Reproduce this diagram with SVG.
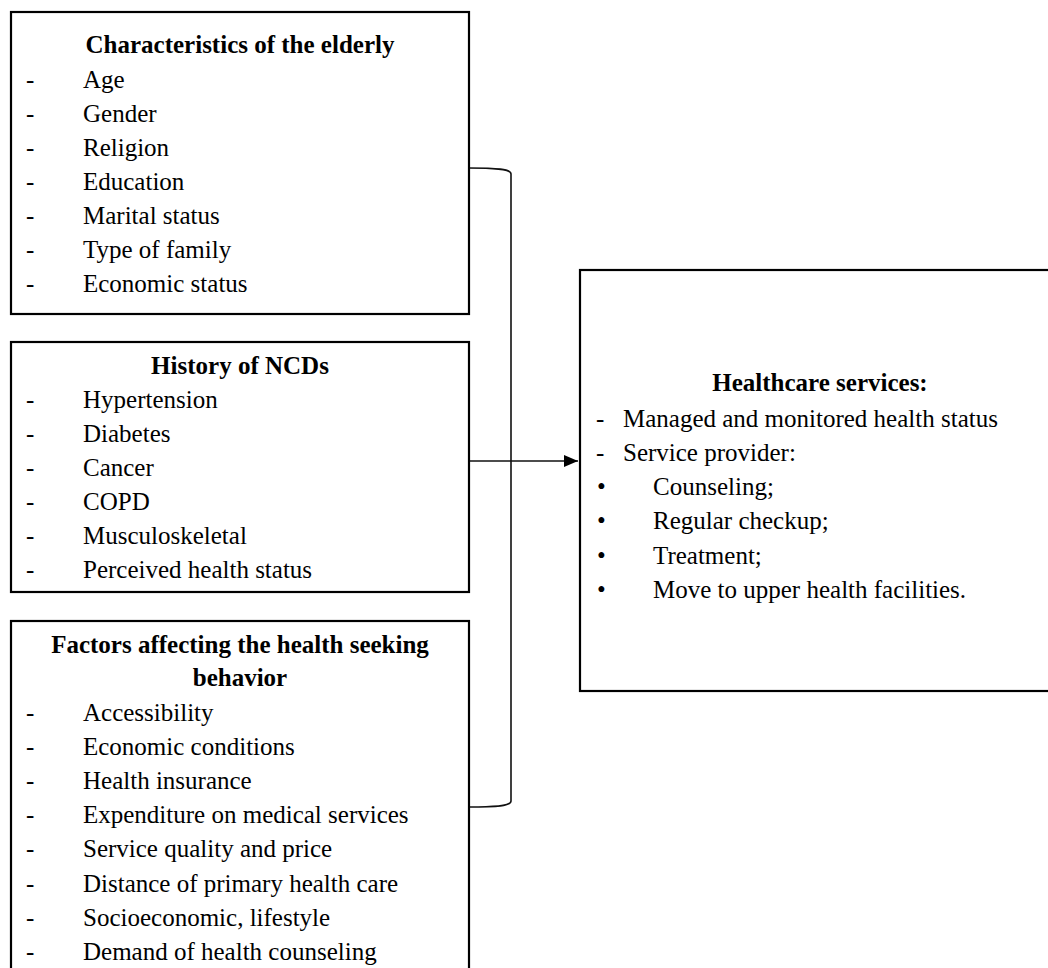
<svg xmlns="http://www.w3.org/2000/svg" width="1048" height="968" viewBox="0 0 1048 968">
<defs>
<style>
.box{fill:#fff;stroke:#000;stroke-width:2.2}
.t{font-family:"Liberation Serif","Times New Roman",serif;font-size:25px;fill:#000}
.h{font-family:"Liberation Serif","Times New Roman",serif;font-size:25px;font-weight:bold;fill:#000;text-anchor:middle}
.conn{fill:none;stroke:#111;stroke-width:1.6}
</style>
<marker id="arr" markerWidth="14" markerHeight="12" refX="14" refY="6" orient="auto" markerUnits="userSpaceOnUse">
<path d="M0,0 L14,6 L0,12 Z" fill="#000"/>
</marker>
</defs>
<rect width="1048" height="968" fill="#fff"/>
<g id="connectors">
<path class="conn" d="M469,168 C497,168 511,169 511,174 V801 C511,806 497,807 469,807"/>
<path class="conn" d="M469,461 H578" marker-end="url(#arr)"/>
</g>
<g id="characteristics">
<rect class="box" x="11" y="12" width="458" height="302"/>
<text class="h" x="240" y="53">Characteristics of the elderly</text>
<g class="t">
<text x="26" y="88">-</text><text x="83" y="88">Age</text>
<text x="26" y="122">-</text><text x="83" y="122">Gender</text>
<text x="26" y="156">-</text><text x="83" y="156">Religion</text>
<text x="26" y="190">-</text><text x="83" y="190">Education</text>
<text x="26" y="224">-</text><text x="83" y="224">Marital status</text>
<text x="26" y="258">-</text><text x="83" y="258">Type of family</text>
<text x="26" y="292">-</text><text x="83" y="292">Economic status</text>
</g>
</g>
<g id="history">
<rect class="box" x="11" y="342" width="458" height="250"/>
<text class="h" x="240" y="374">History of NCDs</text>
<g class="t">
<text x="26" y="408">-</text><text x="83" y="408">Hypertension</text>
<text x="26" y="442">-</text><text x="83" y="442">Diabetes</text>
<text x="26" y="476">-</text><text x="83" y="476">Cancer</text>
<text x="26" y="510">-</text><text x="83" y="510">COPD</text>
<text x="26" y="544">-</text><text x="83" y="544">Musculoskeletal</text>
<text x="26" y="578">-</text><text x="83" y="578">Perceived health status</text>
</g>
</g>
<g id="factors">
<rect class="box" x="11" y="621" width="458" height="380"/>
<text class="h" x="240" y="653">Factors affecting the health seeking</text>
<text class="h" x="240" y="686">behavior</text>
<g class="t">
<text x="26" y="721">-</text><text x="83" y="721">Accessibility</text>
<text x="26" y="755">-</text><text x="83" y="755">Economic conditions</text>
<text x="26" y="789">-</text><text x="83" y="789">Health insurance</text>
<text x="26" y="823">-</text><text x="83" y="823">Expenditure on medical services</text>
<text x="26" y="857">-</text><text x="83" y="857">Service quality and price</text>
<text x="26" y="892">-</text><text x="83" y="892">Distance of primary health care</text>
<text x="26" y="926">-</text><text x="83" y="926">Socioeconomic, lifestyle</text>
<text x="26" y="960">-</text><text x="83" y="960">Demand of health counseling</text>
</g>
</g>
<g id="healthcare">
<rect class="box" x="580" y="270" width="480" height="421"/>
<text class="h" x="820" y="391">Healthcare services:</text>
<g class="t">
<text x="596" y="427">-</text><text x="623" y="427">Managed and monitored health status</text>
<text x="596" y="461">-</text><text x="623" y="461">Service provider:</text>
<text x="597" y="495">•</text><text x="653" y="495">Counseling;</text>
<text x="597" y="529">•</text><text x="653" y="529">Regular checkup;</text>
<text x="597" y="564">•</text><text x="653" y="564">Treatment;</text>
<text x="597" y="598">•</text><text x="653" y="598">Move to upper health facilities.</text>
</g>
</g>
</svg>
